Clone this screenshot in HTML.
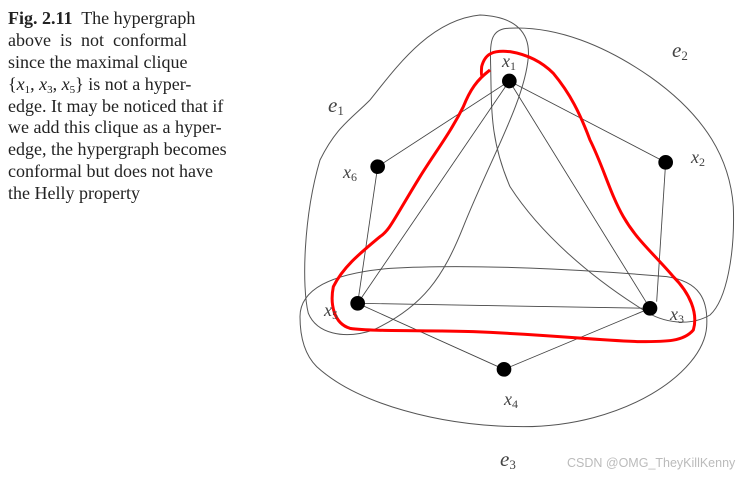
<!DOCTYPE html>
<html><head><meta charset="utf-8"><style>
html,body{margin:0;padding:0;background:#fff;width:752px;height:477px;overflow:hidden}
.cap{position:absolute;left:8px;top:8px;font-family:"Liberation Serif",serif;font-size:18px;line-height:21.9px;color:#222;white-space:nowrap}
.cap div{height:21.9px}
.cap sub{font-size:11px;line-height:0;vertical-align:-3px}
svg{position:absolute;left:0;top:0}
</style></head><body>
<div class="cap">
<div><b>Fig. 2.11</b>&nbsp; The hypergraph</div>
<div>above&nbsp; is&nbsp; not&nbsp; conformal</div>
<div>since the maximal clique</div>
<div>{<i>x</i><sub>1</sub>, <i>x</i><sub>3</sub>, <i>x</i><sub>5</sub>} is not a hyper-</div>
<div>edge. It may be noticed that if</div>
<div>we add this clique as a hyper-</div>
<div>edge, the hypergraph becomes</div>
<div>conformal but does not have</div>
<div>the Helly property</div>
</div>
<svg width="752" height="477" viewBox="0 0 752 477">
<g transform="translate(290,0) scale(0.33333)" fill="none" stroke="#555" stroke-width="3">
<path d="M570,45 C680,50 720,100 715,170 C705,300 600,480 520,680 C460,830 400,920 250,990 C160,1020 80,1000 55,940 C35,860 40,650 90,480 C140,380 180,360 240,300 C320,200 420,60 570,45 Z"/>
<path d="M650,85 C600,90 600,130 602,200 C605,330 600,420 660,560 C750,700 900,830 1060,930 C1120,970 1200,980 1260,945 C1310,900 1335,760 1330,620 C1320,480 1250,350 1080,230 C950,140 800,75 650,85 Z"/>
<path d="M30,950 C30,870 120,820 300,805 C550,790 900,810 1130,830 C1230,845 1255,900 1250,980 C1240,1120 1000,1280 700,1280 C450,1280 200,1210 80,1100 C40,1060 30,1000 30,950 Z"/>
<g stroke="#444" stroke-width="2.6">
<line x1="658" y1="243" x2="263" y2="500"/>
<line x1="658" y1="243" x2="1127" y2="487"/>
<line x1="658" y1="243" x2="203" y2="910"/>
<line x1="658" y1="243" x2="1080" y2="925"/>
<line x1="263" y1="500" x2="203" y2="910"/>
<line x1="1127" y1="487" x2="1100" y2="905"/>
<line x1="203" y1="910" x2="1080" y2="925"/>
<line x1="203" y1="910" x2="642" y2="1108"/>
<line x1="1080" y1="925" x2="642" y2="1108"/>
</g>
<g fill="#000" stroke="none">
<circle cx="658" cy="243" r="22"/><circle cx="1127" cy="487" r="22"/><circle cx="263" cy="500" r="22"/>
<circle cx="203" cy="910" r="22"/><circle cx="1080" cy="925" r="22"/><circle cx="642" cy="1108" r="22"/>
</g>
<path stroke="#f00" stroke-width="9" stroke-linejoin="round" d="M600,210 C575,230 572,240 575,200 C585,160 610,150 660,155 C720,165 760,190 790,220 C840,280 870,340 900,420 C940,500 960,580 1000,650 C1040,720 1090,760 1150,830 C1200,880 1225,940 1210,990 C1180,1025 1130,1025 1050,1025 C900,1020 800,1005 550,995 C400,990 250,995 180,985 C130,970 120,910 130,860 C160,800 210,760 270,710 C300,690 310,660 390,530 C440,450 480,400 520,320 C540,270 560,240 600,210"/>
</g>
<g font-family="Liberation Serif, serif" font-style="italic" fill="#444" font-size="18">
<text x="502" y="67">x<tspan font-size="12" font-style="normal" dy="3">1</tspan></text>
<text x="691" y="163">x<tspan font-size="12" font-style="normal" dy="3">2</tspan></text>
<text x="670" y="320">x<tspan font-size="12" font-style="normal" dy="3">3</tspan></text>
<text x="504" y="405">x<tspan font-size="12" font-style="normal" dy="3">4</tspan></text>
<text x="324" y="316">x<tspan font-size="12" font-style="normal" dy="3">5</tspan></text>
<text x="343" y="178">x<tspan font-size="12" font-style="normal" dy="3">6</tspan></text>
<text x="328" y="112" font-size="21">e<tspan font-size="13" font-style="normal" dy="3">1</tspan></text>
<text x="672" y="57" font-size="21">e<tspan font-size="13" font-style="normal" dy="3">2</tspan></text>
<text x="500" y="466" font-size="21">e<tspan font-size="13" font-style="normal" dy="3">3</tspan></text>
</g>
<text x="567" y="467" font-family="Liberation Sans, sans-serif" font-size="12.5" fill="#bbb">CSDN @OMG_TheyKillKenny</text>
</svg>
</body></html>
